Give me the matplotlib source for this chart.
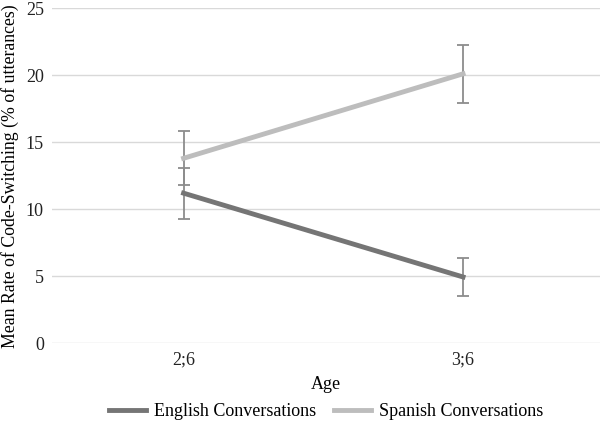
import numpy as np
import matplotlib.pyplot as plt
from matplotlib.lines import Line2D

plt.rcParams['font.family'] = ['Liberation Serif', 'DejaVu Serif']

ages = ['2;6', '3;6']
english = [11.2, 4.95]
english_err = [1.9, 1.45]
spanish = [13.8, 20.1]
spanish_err = [2.0, 2.15]

fig = plt.figure(figsize=(6, 4.26), dpi=100)
ax = fig.add_axes([0.087, 0.194, 0.913, 0.787])

x = np.arange(len(ages))
ax.errorbar(x, english, yerr=english_err, color='#757575', lw=3.5,
            ecolor='#8c8c8c', elinewidth=1.3, capsize=4, capthick=1.3, zorder=3)
ax.errorbar(x, spanish, yerr=spanish_err, color='#bdbdbd', lw=3.5,
            ecolor='#8c8c8c', elinewidth=1.3, capsize=4, capthick=1.3, zorder=3)

ax.set_xlim(-0.47, 1.49)
ax.set_ylim(0, 25)
ax.set_yticks(np.arange(0, 26, 5))
ax.set_xticks(x)
ax.set_xticklabels(ages)
ax.grid(axis='y', color='#d9d9d9', lw=1)
ax.set_axisbelow(True)
for s in ax.spines.values():
    s.set_visible(False)
ax.tick_params(length=0, labelsize=13, colors='#222222', pad=6)

ax.set_xlabel('Age', fontsize=13, labelpad=5)
ax.set_ylabel('Mean Rate of Code-Switching (% of utterances)', fontsize=12.8, labelpad=5)

handles = [Line2D([], [], color='#757575', lw=3.5),
           Line2D([], [], color='#bdbdbd', lw=3.5)]
ax.legend(handles, ['English Conversations', 'Spanish Conversations'],
          loc='center', bbox_to_anchor=(0.5, -0.203), ncol=2, frameon=False,
          fontsize=13, handlelength=2.05, columnspacing=0.95, handletextpad=0.45,
          borderpad=0, borderaxespad=0)

fig.savefig('out.png', dpi=100)
